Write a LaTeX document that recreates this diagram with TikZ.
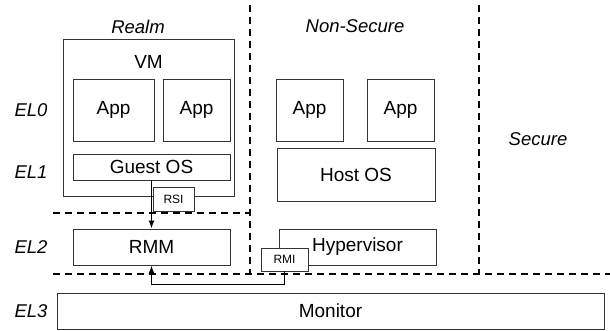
\documentclass[tikz,border=0pt]{standalone}
\usepackage{fontspec}
\setmainfont{Liberation Sans}
\usepackage{tikz}
\usetikzlibrary{positioning,arrows.meta,calc}
\tikzset{
  box/.style   = {draw=black!80, line width=0.9pt, inner sep=0pt,
                  font=\fontsize{19}{21}\selectfont},
  tag/.style   = {box, fill=white, font=\fontsize{12}{14}\selectfont},
  lbl/.style   = {font=\fontsize{18.5}{20}\selectfont\itshape, inner sep=1pt},
  bnd/.style   = {line width=2pt, dash pattern=on 7pt off 5pt},
  ar/.style    = {-{Latex[length=8pt,width=6pt]}, line width=1.4pt},
}

\begin{document}
\begin{tikzpicture}[x=1pt, y=-1pt]
  \useasboundingbox (0,0) rectangle (610,331);
  % world boundaries
  \draw[bnd] (250,5) -- (250,274);
  \draw[bnd] (479,5) -- (479,274);
  \draw[bnd] (53,213) -- (250,213);
  \draw[bnd] (53,274) -- (610,274);
  % worlds and exception levels
  \node[lbl] (realm) at (138,27) {Realm};
  \node[lbl] (nonsec) at (355,26) {Non-Secure};
  \node[lbl] (sec) at (538,139) {Secure};
  \node[lbl] (el0) at (31,110) {EL0};
  \node[lbl] (el1) at (31,172) {EL1};
  \node[lbl] (el2) at (31,247) {EL2};
  \node[lbl] (el3) at (31,311) {EL3};
  % realm side
  \node[box, minimum width=171pt, minimum height=157pt] (vm) at (148.5,117.5) {};
  \node[box, draw=none] (vmname) at (148.5,62) {VM};
  \node[box, minimum width=81pt, minimum height=62pt] (rapp1) at (113.5,110) {App};
  \node[box, minimum width=67pt, minimum height=62pt] (rapp2) at (196.5,110) {App};
  \node[box, minimum width=157pt, minimum height=26pt] (guest) at (151.5,167) {Guest OS};
  \node[box, minimum width=157pt, minimum height=36pt] (rmm) at (151.5,247) {RMM};
  \draw[ar] (guest.south) -- (rmm.north);
  \node[tag, minimum width=41pt, minimum height=24pt] (rsi) at (173.5,199) {RSI};
  % non-secure side
  \node[box, minimum width=67pt, minimum height=62pt] (napp1) at (309.5,110) {App};
  \node[box, minimum width=67pt, minimum height=62pt] (napp2) at (400.5,110) {App};
  \node[box, minimum width=158pt, minimum height=53pt] (host) at (356,174.5) {Host OS};
  \node[box, minimum width=157pt, minimum height=36pt] (hyp) at (357.5,247) {Hypervisor};
  \node[tag, minimum width=47pt, minimum height=23pt] (rmi) at (284.5,259.5) {RMI};
  \draw[ar] (rmi.south) -- ++(0,13) -| (rmm.south);
  % root
  \node[box, minimum width=547pt, minimum height=36pt] (mon) at (330.5,311) {Monitor};
\end{tikzpicture}
\end{document}
